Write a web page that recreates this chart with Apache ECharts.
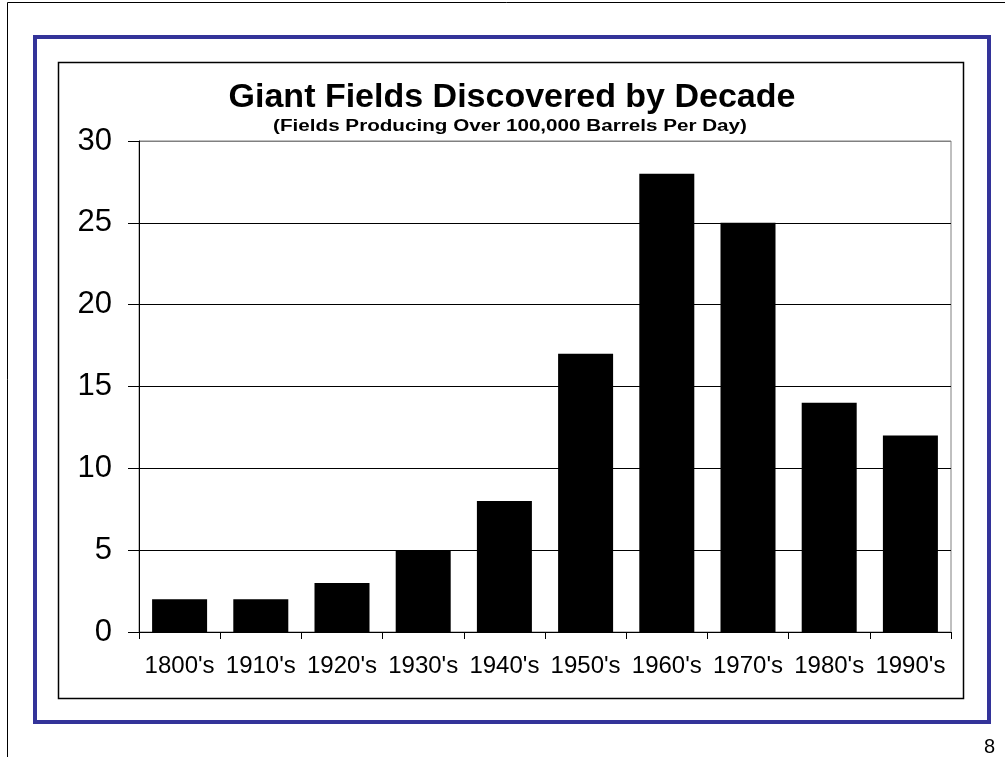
<!DOCTYPE html>
<html>
<head>
<meta charset="utf-8">
<script src="https://cdn.jsdelivr.net/npm/echarts@6/dist/echarts.min.js"></script>
<style>
  html, body { margin: 0; padding: 0; background: #fff; }
  #chart { width: 1005px; height: 757px; }
</style>
</head>
<body>
<div id="chart"></div>
<script>
// Decades and number of giant oil fields discovered in each
const decades = ["1800's", "1910's", "1920's", "1930's", "1940's", "1950's", "1960's", "1970's", "1980's", "1990's"];
const fieldCounts = [2, 2, 3, 5, 8, 17, 28, 25, 14, 12];
const yTicks = [0, 5, 10, 15, 20, 25, 30];

const chart = echarts.init(document.getElementById('chart'), null, { renderer: 'canvas' });

const font = 'Arial, "Liberation Sans", sans-serif';

chart.setOption({
  backgroundColor: '#ffffff',
  animation: false,
  title: [
    {
      text: 'Giant Fields Discovered by Decade',
      left: 507, top: 76, textAlign: 'center',
      textStyle: { fontFamily: font, fontSize: 34, fontWeight: 'bold', color: '#000' }
    }
  ],
  grid: {
    left: 139, top: 141, right: 54, bottom: 125,
    show: true, borderColor: '#808080', borderWidth: 1, backgroundColor: 'transparent'
  },
  xAxis: {
    type: 'category',
    data: decades,
    boundaryGap: true,
    axisLine: { lineStyle: { color: '#000', width: 1 } },
    axisTick: { show: true, alignWithLabel: false, length: 7, lineStyle: { color: '#000' } },
    axisLabel: { fontFamily: font, fontSize: 24, color: '#000', margin: 22, interval: 0 }
  },
  yAxis: {
    type: 'value',
    min: yTicks[0], max: yTicks[yTicks.length - 1], interval: yTicks[1] - yTicks[0],
    axisLine: { show: true, lineStyle: { color: '#000', width: 1 } },
    axisTick: { show: true, length: 11, lineStyle: { color: '#000' } },
    axisLabel: { fontFamily: font, fontSize: 31, color: '#000', margin: 27 },
    splitLine: {
      show: true,
      lineStyle: { color: ['#000', '#000', '#000', '#000', '#000', '#000', '#808080'], width: 1 }
    }
  },
  series: [{
    type: 'bar',
    data: fieldCounts,
    barWidth: 55,
    itemStyle: { color: '#000' },
    silent: true
  }],
  graphic: [
    // outer page edge lines
    { type: 'line', shape: { x1: 7.5, y1: 2.5, x2: 1005, y2: 2.5 }, style: { stroke: '#000', lineWidth: 1 }, silent: true },
    { type: 'line', shape: { x1: 7.5, y1: 2.5, x2: 7.5, y2: 757 }, style: { stroke: '#000', lineWidth: 1 }, silent: true },
    // blue slide frame
    { type: 'rect', shape: { x: 35, y: 37, width: 954, height: 685 }, style: { fill: 'none', stroke: '#333399', lineWidth: 4 }, silent: true },
    // chart area frame
    { type: 'rect', shape: { x: 58.5, y: 62.5, width: 905, height: 636 }, style: { fill: 'none', stroke: '#000', lineWidth: 1.5 }, silent: true },
    // subtitle, set in a widened bold face
    {
      type: 'text', x: 510, y: 127, scaleX: 1.29, silent: true,
      style: {
        text: '(Fields Producing Over 100,000 Barrels Per Day)',
        fill: '#000', font: 'bold 16px Arial, "Liberation Sans", sans-serif',
        textAlign: 'center', textVerticalAlign: 'middle'
      }
    },
    // page number
    { type: 'text', left: 984, top: 737, style: { text: '8', fill: '#000', font: '20px Arial, "Liberation Sans", sans-serif' }, silent: true }
  ]
});
</script>
</body>
</html>
